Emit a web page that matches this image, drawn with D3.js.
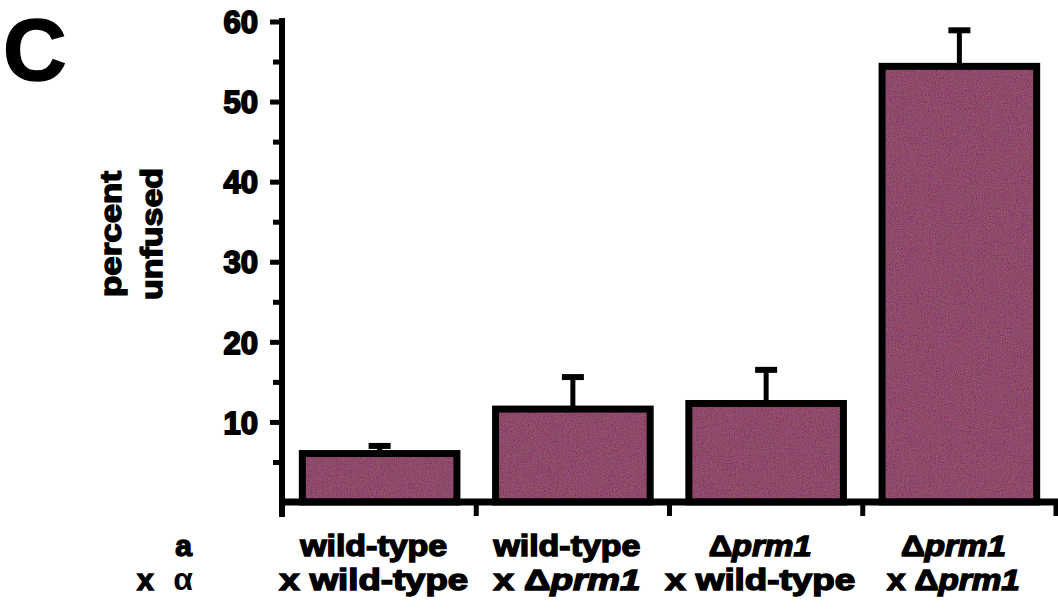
<!DOCTYPE html>
<html>
<head>
<meta charset="utf-8">
<script src="https://cdn.jsdelivr.net/npm/d3@7"></script>
<style>
  html, body { margin: 0; padding: 0; background: #ffffff; }
  svg { display: block; }
  text { font-family: "Liberation Sans", Arial, Helvetica, sans-serif; font-weight: bold; fill: #000; }
</style>
</head>
<body>
<svg id="chart" width="1058" height="611"></svg>
<script>
// ---- data ----
const categories = ["wt x wt", "wt x prm1", "prm1 x wt", "prm1 x prm1"];
const values = [6.05, 11.6, 12.3, 54.4];          // percent unfused (bar height)
const errorTops = [7.0, 15.6, 16.5, 58.9];        // upper end of error bar
const yTicks = [10, 20, 30, 40, 50, 60];
const yMinorTicks = [5, 15, 25, 35, 45, 55];
// label lines: each part [text, italic]
const labelLine1 = [
  [["wild-type", false]],
  [["wild-type", false]],
  [["\u0394", false], ["prm1", true]],
  [["\u0394", false], ["prm1", true]]
];
const labelLine2 = [
  [["x wild-type", false]],
  [["x \u0394", false], ["prm1", true]],
  [["x wild-type", false]],
  [["x \u0394", false], ["prm1", true]]
];
const yTitle = ["percent", "unfused"];
const panelLetter = "C";

// ---- layout ----
const svg = d3.select("#chart");
const x0 = 283, x1 = 1056;
const x = d3.scaleBand().domain(categories).range([x0, x1]).paddingInner(0.2).paddingOuter(0.1);
const y = d3.scaleLinear().domain([0, 60]).range([502, 21.5]);

const line1Widths = [147, 147, 103, 105];
const line2Widths = [189, 147, 190, 133];
const labelShift = [-6, -6, -6, -6];
const heavy = 1.4;

// grain filter for the bar fill
const defs = svg.append("defs");
const f = defs.append("filter").attr("id", "grain").attr("x", 0).attr("y", 0).attr("width", "100%").attr("height", "100%");
f.append("feTurbulence").attr("type", "fractalNoise").attr("baseFrequency", 0.85).attr("numOctaves", 2).attr("seed", 7).attr("result", "noise");
f.append("feColorMatrix").attr("in", "noise").attr("type", "matrix")
  .attr("values", "1 0 0 0 0  0 0.6 0 0 0.2  0 0 1 0 0  0 0 0 0 1").attr("result", "n");
f.append("feComposite").attr("in", "SourceGraphic").attr("in2", "n").attr("operator", "arithmetic")
  .attr("k1", 0).attr("k2", 1).attr("k3", 0.28).attr("k4", -0.14).attr("result", "mix");
f.append("feComposite").attr("in", "mix").attr("in2", "SourceGraphic").attr("operator", "in");

// bars (fill)
svg.append("g").selectAll("rect").data(categories).join("rect")
  .attr("x", d => x(d)).attr("width", x.bandwidth())
  .attr("y", (d, i) => y(values[i])).attr("height", (d, i) => y(0) - y(values[i]))
  .attr("fill", "#8e4a6b").attr("filter", "url(#grain)");

// error bars
const eg = svg.append("g").attr("stroke", "#000");
eg.selectAll("line.v").data(categories).join("line").attr("class", "v")
  .attr("x1", d => x(d) + x.bandwidth() / 2).attr("x2", d => x(d) + x.bandwidth() / 2)
  .attr("y1", (d, i) => y(values[i])).attr("y2", (d, i) => y(errorTops[i]))
  .attr("stroke-width", 5);
eg.selectAll("line.c").data(categories).join("line").attr("class", "c")
  .attr("x1", d => x(d) + x.bandwidth() / 2 - 11).attr("x2", d => x(d) + x.bandwidth() / 2 + 11)
  .attr("y1", (d, i) => y(errorTops[i])).attr("y2", (d, i) => y(errorTops[i]))
  .attr("stroke-width", 6);

// bar outlines
svg.append("g").selectAll("rect").data(categories).join("rect")
  .attr("x", d => x(d)).attr("width", x.bandwidth())
  .attr("y", (d, i) => y(values[i])).attr("height", (d, i) => y(0) - y(values[i]))
  .attr("fill", "none").attr("stroke", "#000").attr("stroke-width", 7);

// y axis
const yAxis = svg.append("g").attr("transform", `translate(${x0 - 1},0)`)
  .call(d3.axisLeft(y).tickValues(yTicks).tickSize(12).tickPadding(12).tickFormat(d3.format("d")));
yAxis.select(".domain").remove();
yAxis.selectAll(".tick line").attr("stroke", "#000").attr("stroke-width", 5);
yAxis.selectAll(".tick text").attr("font-size", 31).attr("dy", "0.36em")
  .attr("font-family", "Liberation Sans, Arial, sans-serif").attr("font-weight", "bold")
  .attr("stroke", "#000").attr("stroke-width", 1.8).attr("fill", "#000");
const yMinor = svg.append("g").attr("transform", `translate(${x0 - 1},0)`)
  .call(d3.axisLeft(y).tickValues(yMinorTicks).tickSize(9).tickFormat(""));
yMinor.select(".domain").remove();
yMinor.selectAll(".tick line").attr("stroke", "#000").attr("stroke-width", 5);

svg.append("line").attr("x1", x0 - 1).attr("x2", x0 - 1)
  .attr("y1", y(60) - 3.5).attr("y2", y(0) + 15)
  .attr("stroke", "#000").attr("stroke-width", 6);

// x axis
svg.append("line").attr("x1", x0 - 4).attr("x2", 1058)
  .attr("y1", y(0)).attr("y2", y(0)).attr("stroke", "#000").attr("stroke-width", 7);
const boundaries = categories.map(d => x(d) + x.bandwidth() + x.step() * x.paddingInner() / 2);
svg.append("g").selectAll("line").data(boundaries).join("line")
  .attr("x1", d => d).attr("x2", d => d).attr("y1", y(0)).attr("y2", y(0) + 14)
  .attr("stroke", "#000").attr("stroke-width", 5);

// category labels
function addLabel(parts, cx, baseline, width) {
  const t = svg.append("text").attr("x", cx).attr("y", baseline).attr("text-anchor", "middle")
    .attr("font-size", 29).attr("stroke", "#000").attr("stroke-width", heavy)
    .attr("textLength", width).attr("lengthAdjust", "spacingAndGlyphs");
  parts.forEach(p => {
    t.append("tspan").text(p[0]).attr("font-style", p[1] ? "italic" : "normal");
  });
}
categories.forEach((c, i) => {
  const cx = x(c) + x.bandwidth() / 2 + labelShift[i];
  addLabel(labelLine1[i], cx, 556, line1Widths[i]);
  addLabel(labelLine2[i], cx, 590, line2Widths[i]);
});

// row labels on the left
svg.append("text").attr("x", 192).attr("y", 556).attr("text-anchor", "end")
  .attr("font-size", 30).attr("stroke", "#000").attr("stroke-width", heavy).text("a");
svg.append("text").attr("x", 137).attr("y", 590).attr("font-size", 30)
  .attr("stroke", "#000").attr("stroke-width", heavy).text("x");
svg.append("text").attr("x", 193).attr("y", 590).attr("text-anchor", "end")
  .attr("font-weight", "normal").attr("font-family", "Liberation Serif, serif").attr("font-size", 32)
  .text("\u03B1");

// y title
const yt = svg.append("g").attr("transform", "translate(0,234) rotate(-90)");
yTitle.forEach((s, i) => {
  yt.append("text").attr("x", 0).attr("y", 121 + i * 41).attr("text-anchor", "middle")
    .attr("font-size", 29).attr("stroke", "#000").attr("stroke-width", heavy)
    .attr("textLength", i === 0 ? 126 : 132).attr("lengthAdjust", "spacingAndGlyphs").text(s);
});

// panel letter
svg.append("text").attr("x", 3).attr("y", 80).attr("font-size", 88).attr("stroke", "#000").attr("stroke-width", 1.5).text(panelLetter);
</script>
</body>
</html>
